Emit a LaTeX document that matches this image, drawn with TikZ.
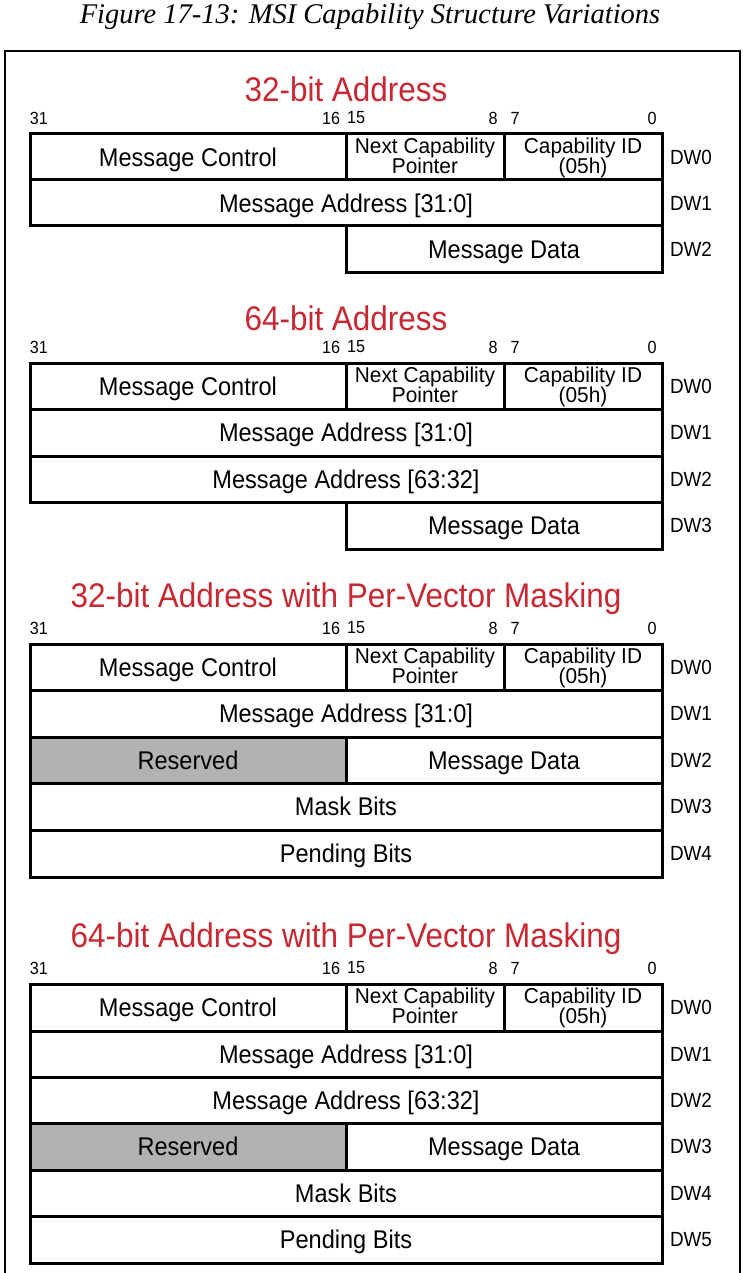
\documentclass[tikz,border=0pt]{standalone}
\usepackage{fontspec}
\setmainfont[FakeStretch=0.92]{Liberation Sans}
\newfontfamily\smallfam[FakeStretch=0.97]{Liberation Sans}
\newfontfamily\capfont{Liberation Serif}
\definecolor{ttlred}{RGB}{200,40,50}
\newcommand{\mcell}[7][one]{\node[cell,#1,minimum width={#4-#3},minimum height={#6-#5}] (#2) at ({(#3+#4)/2},{(#5+#6)/2}) {#7};}
\newcommand{\dwl}[4]{\node[dw] (#1) at (691,{(#2+#3)/2}) {#4};}
\newcommand{\msihdr}[3]{%
 \node[ttl] (#1title) at (346,#2-45) {#3};
 \node[bit] (#1b31) at (39,#2-16) {31};
 \node[bit] (#1b16) at (331,#2-16) {16};
 \node[bit] (#1b15) at (356,#2-16) {15};
 \node[bit] (#1b8) at (493,#2-16) {8};
 \node[bit] (#1b7) at (515,#2-16) {7};
 \node[bit] (#1b0) at (652,#2-16) {0};}
\newcommand{\msirowzero}[3]{%
 \mcell{#1mc}{30}{346}{#2}{#3}{Message Control}
 \mcell{#1ncp}{346}{504}{#2}{#3}{}
 \node[small] (#1ncpa) at (425,#2+19.3) {Next Capability};
 \node[small] (#1ncpb) at (425,#2+39.5) {Pointer};
 \mcell{#1cid}{504}{662}{#2}{#3}{}
 \node[small] (#1cida) at (583,#2+19.3) {Capability ID};
 \node[small] (#1cidb) at (583,#2+39.5) {(05h)};
 \dwl{#1dw0}{#2}{#3}{DW0}}
\begin{document}
\begin{tikzpicture}[x=1pt,y=-1pt,
 cell/.style={draw,line width=3pt,inner sep=0pt,align=center},
 one/.style={text height=18.2pt,text depth=0pt,font=\fontsize{25.6}{26}\selectfont},
 small/.style={anchor=base,inner sep=0pt,text height=15.5pt,text depth=4.5pt,font=\smallfam\fontsize{21.5}{19}\selectfont},
 ttl/.style={text=ttlred,inner sep=0pt,font=\fontsize{34.2}{35}\selectfont},
 bit/.style={inner sep=0pt,font=\fontsize{17.6}{18}\selectfont},
 dw/.style={inner sep=0pt,font=\fontsize{20.5}{21}\selectfont},
 resv/.style={fill=gray!60},
 frame/.style={line width=1.2pt}]
\useasboundingbox (0,0) rectangle (743,1273);
\node[inner sep=0pt,font=\capfont\itshape\fontsize{28.5}{30}\selectfont] (cap) at (370,17) {Figure 17-13: MSI Capability Structure Variations};
\draw[frame] (5,1290) -- (5,51) -- (740,51) -- (740,1290);
% Section 1
\msihdr{a}{134}{32-bit Address}
\msirowzero{a}{134}{180}
\mcell{ama}{30}{662}{180}{226}{Message Address [31:0]}
\dwl{adw1}{180}{226}{DW1}
\mcell{amd}{346}{662}{226}{272}{Message Data}
\dwl{adw2}{226}{272}{DW2}
% Section 2
\msihdr{b}{363}{64-bit Address}
\msirowzero{b}{363}{409}
\mcell{bma}{30}{662}{409}{456}{Message Address [31:0]}
\dwl{bdw1}{409}{456}{DW1}
\mcell{bmah}{30}{662}{456}{502}{Message Address [63:32]}
\dwl{bdw2}{456}{502}{DW2}
\mcell{bmd}{346}{662}{502}{549}{Message Data}
\dwl{bdw3}{502}{549}{DW3}
% Section 3
\msihdr{c}{644}{32-bit Address with Per-Vector Masking}
\msirowzero{c}{644}{690}
\mcell{cma}{30}{662}{690}{737}{Message Address [31:0]}
\dwl{cdw1}{690}{737}{DW1}
\mcell[one,resv]{crs}{30}{346}{737}{783}{Reserved}
\mcell{cmd}{346}{662}{737}{783}{Message Data}
\dwl{cdw2}{737}{783}{DW2}
\mcell{cmb}{30}{662}{783}{830}{Mask Bits}
\dwl{cdw3}{783}{830}{DW3}
\mcell{cpb}{30}{662}{830}{877}{Pending Bits}
\dwl{cdw4}{830}{877}{DW4}
% Section 4
\msihdr{d}{984}{64-bit Address with Per-Vector Masking}
\msirowzero{d}{984}{1031}
\mcell{dma}{30}{662}{1031}{1077}{Message Address [31:0]}
\dwl{ddw1}{1031}{1077}{DW1}
\mcell{dmah}{30}{662}{1077}{1123}{Message Address [63:32]}
\dwl{ddw2}{1077}{1123}{DW2}
\mcell[one,resv]{drs}{30}{346}{1123}{1170}{Reserved}
\mcell{dmd}{346}{662}{1123}{1170}{Message Data}
\dwl{ddw3}{1123}{1170}{DW3}
\mcell{dmb}{30}{662}{1170}{1216}{Mask Bits}
\dwl{ddw4}{1170}{1216}{DW4}
\mcell{dpb}{30}{662}{1216}{1263}{Pending Bits}
\dwl{ddw5}{1216}{1263}{DW5}
\end{tikzpicture}
\end{document}
